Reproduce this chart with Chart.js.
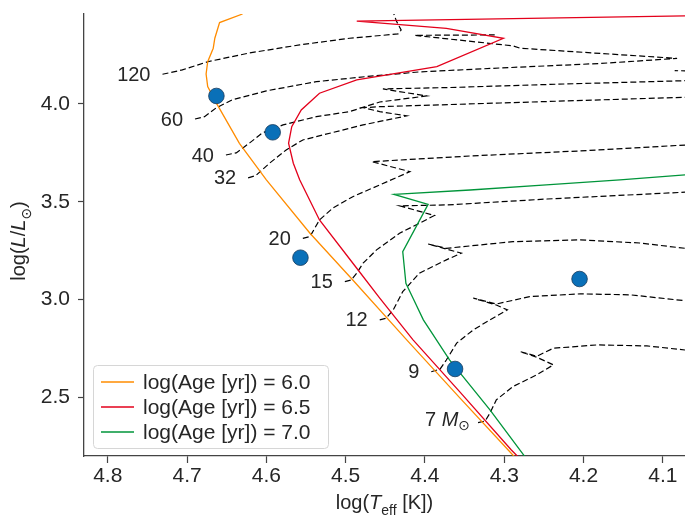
<!DOCTYPE html>
<html>
<head>
<meta charset="utf-8">
<script src="https://cdn.jsdelivr.net/npm/chart.js@4.4.1/dist/chart.umd.min.js"></script>
<style>
  html, body { margin: 0; padding: 0; background: #fff; }
</style>
</head>
<body>
<canvas id="chart" width="685" height="515"></canvas>
<script>
// evolutionary tracks, log(Teff) and log(L/Lsun)
const masses = ['120', '60', '40', '32', '20', '15', '12', '9', '7'];

const teff120 = [4.731, 4.706, 4.674, 4.621, 4.558, 4.495, 4.434, 4.430, 4.436, 4.441];
const lum120  = [4.152, 4.174, 4.216, 4.261, 4.302, 4.336, 4.358, 4.378, 4.424, 4.481];

const teff60 = [4.690, 4.678, 4.663, 4.643, 4.600, 4.537, 4.474, 4.407, 4.305, 4.179, 4.082, 4.280, 4.289, 4.413, 4.312];
const lum60  = [3.923, 3.935, 3.981, 4.021, 4.067, 4.114, 4.140, 4.164, 4.184, 4.207, 4.233, 4.285, 4.297, 4.351, 4.353];

const teff40 = [4.651, 4.638, 4.621, 4.605, 4.579, 4.537, 4.495, 4.457, 4.398, 4.453, 4.369, 4.242, 4.072, 4.053, 4.053, 4.085];
const lum40  = [3.739, 3.750, 3.801, 3.852, 3.893, 3.935, 3.961, 4.010, 4.041, 4.077, 4.084, 4.100, 4.119, 4.133, 4.169, 4.170];

const teff32 = [4.623, 4.613, 4.596, 4.575, 4.554, 4.537, 4.478, 4.423, 4.457, 4.478, 4.457, 4.305, 4.179, 4.072];
const lum32  = [3.622, 3.635, 3.697, 3.765, 3.816, 3.833, 3.893, 3.939, 3.961, 3.981, 3.986, 4.005, 4.021, 4.034];

const teff20 = [4.554, 4.545, 4.533, 4.516, 4.491, 4.457, 4.419, 4.467, 4.343, 4.204, 4.072];
const lum20  = [3.313, 3.322, 3.407, 3.468, 3.526, 3.586, 3.654, 3.705, 3.734, 3.760, 3.790];

const teff15 = [4.501, 4.493, 4.486, 4.478, 4.461, 4.432, 4.407, 4.388, 4.432, 4.371, 4.246, 4.072];
const lum15  = [3.092, 3.100, 3.135, 3.186, 3.254, 3.339, 3.390, 3.430, 3.479, 3.484, 3.514, 3.549];

const teff12 = [4.457, 4.449, 4.440, 4.428, 4.407, 4.373, 4.354, 4.396, 4.373, 4.289, 4.204, 4.129, 4.072];
const lum12  = [2.896, 2.904, 2.947, 3.040, 3.135, 3.203, 3.237, 3.284, 3.262, 3.296, 3.305, 3.289, 3.262];

const teff9 = [4.392, 4.381, 4.373, 4.360, 4.339, 4.318, 4.296, 4.310, 4.339, 4.310, 4.268, 4.204, 4.141, 4.072];
const lum9  = [2.631, 2.644, 2.691, 2.777, 2.845, 2.896, 2.947, 2.972, 3.007, 2.977, 3.015, 3.029, 3.024, 2.994];

const teff7 = [4.333, 4.324, 4.318, 4.310, 4.289, 4.259, 4.238, 4.259, 4.280, 4.259, 4.238, 4.183, 4.120, 4.072];
const lum7  = [2.371, 2.379, 2.419, 2.487, 2.555, 2.615, 2.666, 2.705, 2.734, 2.710, 2.751, 2.768, 2.763, 2.742];

// isochrones
const ages = ['6.0', '6.5', '7.0'];
const isoTeff60 = [4.630, 4.659, 4.665, 4.667, 4.674, 4.676, 4.674, 4.663, 4.634, 4.600, 4.545, 4.491, 4.423, 4.356, 4.295, 4.280];
const isoLum60  = [4.460, 4.416, 4.336, 4.285, 4.216, 4.153, 4.089, 4.004, 3.799, 3.612, 3.339, 3.100, 2.794, 2.497, 2.231, 2.165];
const isoTeff65 = [4.072, 4.486, 4.373, 4.301, 4.385, 4.486, 4.533, 4.556, 4.568, 4.572, 4.566, 4.558, 4.533, 4.486, 4.457, 4.415, 4.356, 4.291, 4.280];
const isoLum65  = [4.450, 4.424, 4.387, 4.336, 4.191, 4.123, 4.055, 3.969, 3.884, 3.799, 3.697, 3.612, 3.407, 3.160, 3.007, 2.794, 2.528, 2.231, 2.185];
const isoTeff70 = [4.072, 4.154, 4.247, 4.343, 4.439, 4.396, 4.428, 4.424, 4.415, 4.402, 4.369, 4.318, 4.274, 4.268];
const isoLum70  = [3.637, 3.612, 3.586, 3.560, 3.538, 3.487, 3.245, 3.083, 3.007, 2.896, 2.691, 2.436, 2.197, 2.165];

// observed stars
const obsTeff = [4.663, 4.592, 4.557, 4.205, 4.362];
const obsLum  = [4.041, 3.855, 3.214, 3.105, 2.645];

const xTicks = [4.1, 4.2, 4.3, 4.4, 4.5, 4.6, 4.7, 4.8];
const yTicks = [2.5, 3.0, 3.5, 4.0];

const FONT = '"Liberation Sans", "DejaVu Sans", sans-serif';
const INK = '#262626';

const pts = (xs, ys) => xs.map((v, i) => ({ x: v, y: ys[i] }));

const tracks = [
  [teff120, lum120], [teff60, lum60], [teff40, lum40], [teff32, lum32], [teff20, lum20],
  [teff15, lum15], [teff12, lum12], [teff9, lum9], [teff7, lum7]
];
const isoColors = ['#ff8c00', '#e3001b', '#00953a'];
const isos = [[isoTeff60, isoLum60], [isoTeff65, isoLum65], [isoTeff70, isoLum70]];

const datasets = [{
  label: 'stars',
  data: pts(obsTeff, obsLum),
  showLine: false,
  pointRadius: 7.8,
  pointBackgroundColor: '#0a70b8',
  pointBorderColor: '#173a5c',
  pointBorderWidth: 0.8,
  order: 0
}];
isos.forEach((d, i) => datasets.push({
  label: 'log(Age [yr]) = ' + ages[i],
  data: pts(d[0], d[1]),
  showLine: true,
  borderColor: isoColors[i],
  borderWidth: 1.3,
  pointRadius: 0,
  order: 1
}));
tracks.forEach((d, i) => datasets.push({
  label: masses[i],
  data: pts(d[0], d[1]),
  showLine: true,
  borderColor: '#000',
  borderWidth: 1.2,
  borderDash: [6, 3],
  pointRadius: 0,
  order: 2
}));

// mixed italic / subscript text
function fontFor(p, size) {
  const s = p.sub ? Math.round(size * 0.68) : size;
  return (p.italic ? 'italic ' : '') + s + 'px ' + FONT;
}
function richWidth(ctx, parts, size) {
  let w = 0;
  parts.forEach(p => { ctx.font = fontFor(p, size); w += ctx.measureText(p.t).width; });
  return w;
}
function drawRich(ctx, parts, x, y, size) {
  parts.forEach(p => {
    ctx.font = fontFor(p, size);
    ctx.fillText(p.t, x, p.sub ? y + size * 0.3 : y);
    x += ctx.measureText(p.t).width;
  });
}

// drop the label overflow padding chart.js adds around the axes
const noPad = s => { s.paddingTop = 0; s.paddingBottom = 0; s.paddingLeft = 0; s.paddingRight = 0; };

const annotations = {
  id: 'annotations',
  afterDraw(chart) {
    const { ctx, chartArea, scales: { x, y } } = chart;
    ctx.save();
    ctx.fillStyle = INK;

    // mass labels at the start of each track
    ctx.textBaseline = 'middle';
    tracks.forEach((d, i) => {
      const px = x.getPixelForValue(d[0][0]);
      const py = y.getPixelForValue(d[1][0]);
      if (masses[i] === '7') {
        const parts = [{ t: '7 ' }, { t: 'M', italic: true }, { t: '\u2299', sub: true }];
        const w = richWidth(ctx, parts, 20);
        drawRich(ctx, parts, px - 8 - w, py - 2, 20);
      } else {
        ctx.font = '20px ' + FONT;
        ctx.textAlign = 'right';
        ctx.fillText(masses[i], px - 12, py + 1);
        ctx.textAlign = 'left';
      }
    });

    // axis titles
    ctx.textBaseline = 'alphabetic';
    ctx.textAlign = 'left';
    const xt = [{ t: 'log(' }, { t: 'T', italic: true }, { t: 'eff', sub: true }, { t: ' [K])' }];
    const xw = richWidth(ctx, xt, 20);
    drawRich(ctx, xt, (chartArea.left + chartArea.right) / 2 - xw / 2, 509, 20);

    const yt = [{ t: 'log(' }, { t: 'L', italic: true }, { t: '/' }, { t: 'L', italic: true }, { t: '\u2299', sub: true }, { t: ')' }];
    const yw = richWidth(ctx, yt, 20);
    ctx.save();
    ctx.translate(25, 241);
    ctx.rotate(-Math.PI / 2);
    drawRich(ctx, yt, -yw / 2, 0, 20);
    ctx.restore();

    // legend
    const lx = 93.5, ly = 365.5, lw = 235, lh = 83;
    ctx.beginPath();
    ctx.roundRect(lx, ly, lw, lh, 4);
    ctx.fillStyle = 'rgba(255,255,255,0.85)';
    ctx.fill();
    ctx.strokeStyle = '#d6d6d6';
    ctx.lineWidth = 1;
    ctx.stroke();
    ctx.textBaseline = 'middle';
    ctx.font = '21px ' + FONT;
    ages.forEach((a, i) => {
      const ry = 382 + i * 25;
      ctx.strokeStyle = isoColors[i];
      ctx.lineWidth = 1.6;
      ctx.beginPath();
      ctx.moveTo(101, ry);
      ctx.lineTo(134, ry);
      ctx.stroke();
      ctx.fillStyle = INK;
      ctx.fillText('log(Age [yr]) = ' + a, 143, ry + 1);
    });
    ctx.restore();
  }
};

new Chart(document.getElementById('chart'), {
  type: 'scatter',
  data: { datasets },
  options: {
    responsive: false,
    animation: false,
    events: [],
    layout: { autoPadding: false, padding: { top: 14, right: 0, bottom: 0, left: 0 } },
    plugins: { legend: { display: false }, tooltip: { enabled: false } },
    scales: {
      x: {
        type: 'linear',
        reverse: true,
        min: 4.072,
        max: 4.830,
        afterBuildTicks: s => { s.ticks = xTicks.map(v => ({ value: v })); },
        afterFit: s => { s.height = 59; noPad(s); },
        ticks: { callback: v => v.toFixed(1), font: { size: 21, family: FONT }, color: INK, padding: 1, maxRotation: 0 },
        grid: { drawOnChartArea: false, tickLength: 7, color: '#444', tickWidth: 1.2 },
        border: { color: '#444', width: 1.3 }
      },
      y: {
        type: 'linear',
        min: 2.2,
        max: 4.46,
        afterBuildTicks: s => { s.ticks = yTicks.map(v => ({ value: v })); },
        afterFit: s => { s.width = 84; noPad(s); },
        ticks: { callback: v => v.toFixed(1), font: { size: 21, family: FONT }, color: INK, padding: 8 },
        grid: { drawOnChartArea: false, tickLength: 6, color: '#444', tickWidth: 1.2 },
        border: { color: '#444', width: 1.3 }
      }
    }
  },
  plugins: [annotations]
});
</script>
</body>
</html>
